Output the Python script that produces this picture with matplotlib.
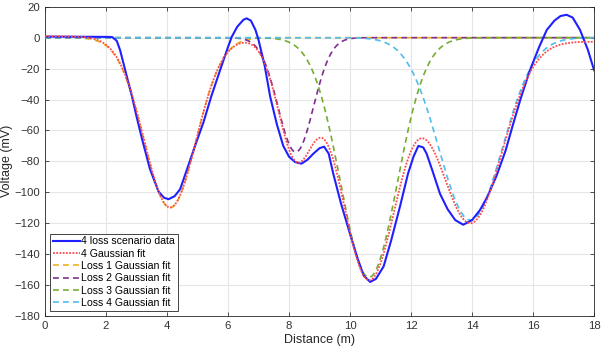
import numpy as np
import matplotlib
matplotlib.use("Agg")
import matplotlib.pyplot as plt

plt.rcParams['font.family'] = ['Liberation Sans', 'DejaVu Sans']

data_x = [0.0, 1.0, 2.0, 2.2, 2.35, 2.46, 2.68, 2.85, 3.0, 3.2, 3.44, 3.72, 3.9, 4.05,
          4.25, 4.43, 4.64, 4.9, 5.19, 5.45, 5.74, 6.0, 6.12, 6.3, 6.5, 6.61, 6.75,
          6.9, 7.0, 7.2, 7.38, 7.6, 7.81, 8.0, 8.2, 8.41, 8.6, 8.8, 9.0, 9.15, 9.3,
          9.45, 9.7, 10.0, 10.25, 10.45, 10.66, 10.85, 11.1, 11.35, 11.64, 11.9,
          12.08, 12.24, 12.4, 12.51, 12.7, 12.95, 13.2, 13.45, 13.71, 14.0, 14.26,
          14.5, 14.81, 15.1, 15.36, 15.6, 15.9, 16.2, 16.45, 16.7, 16.9, 17.1, 17.3,
          17.54, 17.8, 18.0]
data_mv = [0.7, 0.6, 0.5, 0.4, -2, -8, -25, -38, -51, -67, -85, -99.5, -103.5, -104.5,
           -102.5, -98, -86, -71, -55, -38, -21, -6, 0.5, 7, 11.5, 12.5, 11,
           5, -1.5, -18, -38, -56, -70, -77, -80.5, -81.5, -79, -75, -71.5, -70.5, -75,
           -88, -107, -127, -143, -154, -158, -156, -148, -131, -109, -88,
           -77, -70, -71, -75, -86, -101, -111, -118, -121, -118, -111.5,
           -103, -89, -73, -55, -39, -21, -6, 5, 11, 14, 14.8, 13,
           5, -8, -21]

# ---- Gaussian fit parameters for losses 1..4 ----
loss_amp = [-110.0, -74.0, -155.0, -118.0]      # mV
loss_center = [4.1, 8.22, 10.62, 13.95]         # m
loss_sigma = [0.85, 0.58, 0.93, 1.04]           # m
# baseline of the combined fit at start / end of the trace
fit_baseline = [1.0, -2.6]                      # mV

x_range = [0, 18]
y_range = [-180, 20]
x_ticks = [0, 2, 4, 6, 8, 10, 12, 14, 16, 18]
y_ticks = [-180, -160, -140, -120, -100, -80, -60, -40, -20, 0, 20]

labels = ['4 loss scenario data', '4 Gaussian fit', 'Loss 1 Gaussian fit',
          'Loss 2 Gaussian fit', 'Loss 3 Gaussian fit', 'Loss 4 Gaussian fit']
loss_colors = ['#EDB120', '#7E2F8E', '#77AC30', '#4DBEEE']

# evaluate the fitted model on the distance axis
xf = np.linspace(x_range[0], x_range[1], 901)
loss_curves = [a * np.exp(-(xf - m) ** 2 / (2 * s ** 2))
               for a, m, s in zip(loss_amp, loss_center, loss_sigma)]
baseline = np.interp(xf, x_range, fit_baseline)
fit_total = np.sum(loss_curves, axis=0) + baseline

fig = plt.figure(figsize=(6.02, 3.55), dpi=100)
ax = fig.add_axes([0.0748, 0.110, 0.912, 0.871])

ax.plot(data_x, data_mv, color='#2020FF', lw=1.5, label=labels[0], zorder=5,
        solid_joinstyle='round')
ax.plot(xf, fit_total, color='#FF4A4A', lw=1.3, ls=(0, (1, 0.8)), label=labels[1], zorder=6)
for i, c in enumerate(loss_curves):
    ax.plot(xf, c, color=loss_colors[i], lw=1.2, ls=(0, (3.5, 2.5)), label=labels[i + 2],
            zorder=4)

ax.set_xlim(x_range)
ax.set_ylim(y_range)
ax.set_xticks(x_ticks)
ax.set_yticks(y_ticks)
ax.grid(True, color='#E6E6E6', lw=0.8)
ax.set_axisbelow(True)
ax.tick_params(direction='in', length=3, top=True, right=True, labelsize=8.2,
               colors='#333333', width=0.6)
for sp in ax.spines.values():
    sp.set_color('#262626')
    sp.set_linewidth(0.6)
ax.set_xlabel('Distance (m)', fontsize=9, color='#262626', labelpad=2)
ax.set_ylabel('Voltage (mV)', fontsize=9, color='#262626', labelpad=1)

leg = ax.legend(loc='lower left', fontsize=7.6, frameon=True, fancybox=False,
                edgecolor='#262626', framealpha=1, borderpad=0.25, labelspacing=0.22,
                handlelength=2.6, handletextpad=0.1, borderaxespad=0.5)
leg.get_frame().set_linewidth(0.6)

fig.savefig('out.png', dpi=100)
